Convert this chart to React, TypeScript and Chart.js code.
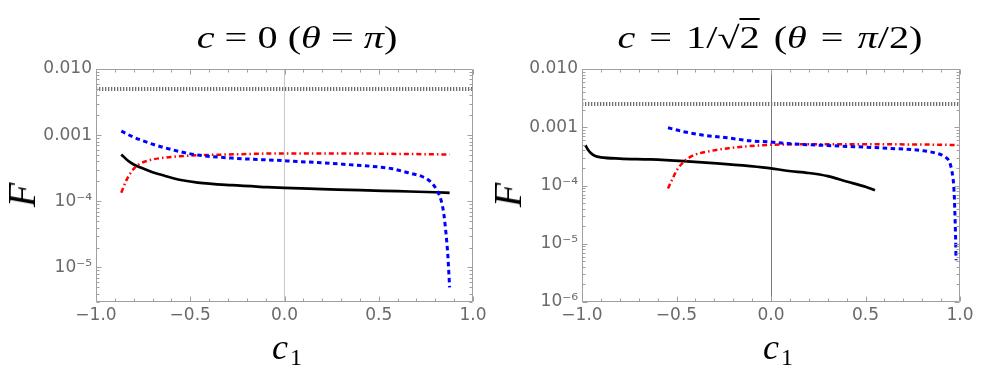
import React, { useEffect, useRef } from "react";
import { Chart, registerables } from "chart.js";

Chart.register(...registerables);

// ---------- Data: panel c = 0 (θ = π) ----------
const c0BlackX = [-0.866, -0.83, -0.8, -0.76, -0.7, -0.64, -0.55, -0.46, -0.28, -0.1, 0, 0.2, 0.4, 0.6, 0.8, 0.876];
const c0BlackY = [5.1e-4, 4.1e-4, 3.6e-4, 3.2e-4, 2.75e-4, 2.45e-4, 2.1e-4, 1.92e-4, 1.75e-4, 1.64e-4, 1.59e-4, 1.53e-4, 1.47e-4, 1.42e-4, 1.37e-4, 1.34e-4];

const c0RedX = [-0.866, -0.85, -0.84, -0.81, -0.78, -0.72, -0.64, -0.5, -0.3, 0, 0.3, 0.6, 0.876];
const c0RedY = [1.35e-4, 1.75e-4, 2.05e-4, 2.85e-4, 3.5e-4, 4.15e-4, 4.55e-4, 4.9e-4, 5.1e-4, 5.3e-4, 5.3e-4, 5.2e-4, 5.1e-4];

const c0BlueX = [-0.866, -0.8, -0.76, -0.7, -0.636, -0.55, -0.46, -0.28, 0, 0.3, 0.5, 0.566, 0.619, 0.672, 0.725, 0.76, 0.787, 0.813, 0.831, 0.845, 0.857, 0.866, 0.876];
const c0BlueY = [1.15e-3, 9.3e-4, 8.4e-4, 7.3e-4, 6.45e-4, 5.6e-4, 5.0e-4, 4.5e-4, 4.1e-4, 3.65e-4, 3.3e-4, 3.13e-4, 2.88e-4, 2.63e-4, 2.4e-4, 2.14e-4, 1.82e-4, 1.38e-4, 1.03e-4, 6.5e-5, 3.2e-5, 1.6e-5, 5e-6];

const c0GrayX = [-1, 1];
const c0GrayY = [5.0e-3, 5.0e-3];

// ---------- Data: panel c = 1/√2 (θ = π/2) ----------
const c1BlackX = [-0.982, -0.97, -0.955, -0.93, -0.9, -0.8, -0.639, -0.462, -0.286, -0.11, 0, 0.084, 0.2, 0.3, 0.4, 0.5, 0.55];
const c1BlackY = [4.9e-4, 4.2e-4, 3.65e-4, 3.2e-4, 3.05e-4, 2.9e-4, 2.8e-4, 2.62e-4, 2.4e-4, 2.15e-4, 1.97e-4, 1.79e-4, 1.64e-4, 1.45e-4, 1.17e-4, 9.5e-5, 8.3e-5];

const c1RedX = [-0.545, -0.524, -0.498, -0.462, -0.41, -0.339, -0.233, -0.11, 0, 0.2, 0.5, 0.8, 0.99];
const c1RedY = [8.9e-5, 1.24e-4, 1.84e-4, 2.55e-4, 3.3e-4, 3.8e-4, 4.33e-4, 4.75e-4, 5.0e-4, 5.1e-4, 5.1e-4, 5.05e-4, 4.95e-4];

const c1BlueX = [-0.545, -0.462, -0.357, -0.233, -0.11, 0, 0.084, 0.3, 0.63, 0.806, 0.877, 0.921, 0.944, 0.956, 0.965, 0.97, 0.974, 0.977, 0.979];
const c1BlueY = [9.8e-4, 8.4e-4, 7.3e-4, 6.6e-4, 5.86e-4, 5.57e-4, 5.25e-4, 4.85e-4, 4.34e-4, 3.95e-4, 3.56e-4, 3.1e-4, 2.55e-4, 1.84e-4, 1.16e-4, 6.4e-5, 2.55e-5, 1.15e-5, 5.2e-6];

const c1GrayX = [-1, 1];
const c1GrayY = [2.5e-3, 2.5e-3];

// ---------- Ticks ----------
const xMajorTicks = [-1, -0.5, 0, 0.5, 1];
const xTickLabels = ["\u22121.0", "\u22120.5", "0.0", "0.5", "1.0"];
const xMinorStep = 0.1;

const yMajorTicks0 = [1e-2, 1e-3, 1e-4, 1e-5];
const yTickLabels0 = ["0.010", "0.001", "10\u207B\u2074", "10\u207B\u2075"];
const yMajorTicks1 = [1e-2, 1e-3, 1e-4, 1e-5, 1e-6];
const yTickLabels1 = ["0.010", "0.001", "10\u207B\u2074", "10\u207B\u2075", "10\u207B\u2076"];

const yMin0 = 3e-6;
const yMin1 = 1e-6;
const yMax = 1e-2;

// ---------- Styles ----------
const TICK_COLOR = "#6a6a6a";
const FRAME_COLOR = "#a0a0a0";
const TICK_FONT = { family: "'DejaVu Sans', 'Liberation Sans', sans-serif", size: 17 };
const SERIF = "'Liberation Serif', 'DejaVu Serif', serif";

const pts = (xs: number[], ys: number[]) => xs.map((x, i) => ({ x, y: ys[i] }));

const findLabel = (v: number, majors: number[], labels: string[]) => {
  const i = majors.findIndex((m) => Math.abs(v / m - 1) < 1e-6 || (m === 0 && Math.abs(v) < 1e-9));
  return i >= 0 ? labels[i] : "";
};

const frameTicksPlugin = {
  id: "frameTicks",
  afterDatasetsDraw(chart: any) {
    const { ctx, chartArea: a, scales } = chart;
    const L = Math.round(a.left) + 0.5;
    const R = Math.round(a.right) - 0.5;
    const T = Math.round(a.top) + 0.5;
    const B = Math.round(a.bottom) - 0.5;
    ctx.save();
    ctx.strokeStyle = FRAME_COLOR;
    ctx.lineWidth = 1;
    ctx.beginPath();
    ctx.rect(L, T, R - L, B - T);
    ctx.stroke();
    ctx.beginPath();
    for (const t of scales.x.ticks) {
      const px = Math.round(scales.x.getPixelForValue(t.value)) + 0.5;
      const major = Math.abs(t.value * 2 - Math.round(t.value * 2)) < 1e-9;
      const len = major ? 5 : 3;
      ctx.moveTo(px, B);
      ctx.lineTo(px, B - len);
      ctx.moveTo(px, T);
      ctx.lineTo(px, T + len);
    }
    for (const t of scales.y.ticks) {
      const py = Math.round(scales.y.getPixelForValue(t.value)) + 0.5;
      const lg = Math.log10(t.value);
      const major = Math.abs(lg - Math.round(lg)) < 1e-9;
      const len = major ? 5 : 3;
      ctx.moveTo(L, py);
      ctx.lineTo(L + len, py);
      ctx.moveTo(R, py);
      ctx.lineTo(R - len, py);
    }
    ctx.stroke();
    ctx.restore();
  },
};

type PanelSpec = {
  blackX: number[]; blackY: number[];
  redX: number[]; redY: number[];
  blueX: number[]; blueY: number[];
  grayX: number[]; grayY: number[];
  yMin: number;
  yMajors: number[];
  yLabels: string[];
  yAxisWidth: number;
  padRight: number;
  zeroColor: string;
};

function buildConfig(p: PanelSpec): any {
  const line = { pointRadius: 0, fill: false, cubicInterpolationMode: "monotone" };
  return {
    type: "line",
    data: {
      datasets: [
        { ...line, data: pts(p.blueX, p.blueY), borderColor: "#0000ff", borderWidth: 3, borderDash: [4.5, 3.5] },
        { ...line, data: pts(p.redX, p.redY), borderColor: "#ff0000", borderWidth: 2.5, borderDash: [5, 3, 1.5, 3] },
        { ...line, data: pts(p.blackX, p.blackY), borderColor: "#000000", borderWidth: 2.7 },
        { pointRadius: 0, fill: false, tension: 0, data: pts(p.grayX, p.grayY), borderColor: "#6e6e6e", borderWidth: 4, borderDash: [1.3, 1.7] },
      ],
    },
    options: {
      responsive: false,
      animation: false,
      devicePixelRatio: 1,
      layout: { padding: { left: 0, right: p.padRight, top: 69, bottom: 0 } },
      plugins: { legend: { display: false }, tooltip: { enabled: false }, title: { display: false } },
      scales: {
        x: {
          type: "linear",
          min: -1,
          max: 1,
          bounds: "data",
          offset: false,
          afterBuildTicks: (s: any) => {
            const n = Math.round(2 / xMinorStep);
            const ticks = [];
            for (let i = 0; i <= n; i++) ticks.push({ value: (i - n / 2) / 10 });
            s.ticks = ticks;
          },
          afterFit: (s: any) => {
            s.height = 85;
            s.paddingLeft = 0;
            s.paddingRight = 0;
          },
          grid: {
            drawTicks: false,
            lineWidth: 1,
            color: (c: any) => (c.tick && Math.abs(c.tick.value) < 1e-9 ? p.zeroColor : "rgba(0,0,0,0)"),
          },
          border: { display: false },
          ticks: {
            autoSkip: false,
            maxRotation: 0,
            minRotation: 0,
            padding: 3,
            color: TICK_COLOR,
            font: TICK_FONT,
            callback: (v: number) => findLabel(v, xMajorTicks, xTickLabels),
          },
        },
        y: {
          type: "logarithmic",
          min: p.yMin,
          max: yMax,
          bounds: "data",
          afterBuildTicks: (s: any) => {
            const ticks = [];
            const e0 = Math.floor(Math.log10(p.yMin));
            const e1 = Math.round(Math.log10(yMax));
            for (let e = e0; e <= e1; e++) {
              for (let k = 1; k <= 9; k++) {
                const v = k * Math.pow(10, e);
                if (v >= p.yMin * 0.999999 && v <= yMax * 1.000001) ticks.push({ value: v });
              }
            }
            s.ticks = ticks;
          },
          afterFit: (s: any) => {
            s.width = p.yAxisWidth;
            s.paddingTop = 0;
            s.paddingBottom = 0;
          },
          grid: { display: false, drawTicks: false },
          border: { display: false },
          ticks: {
            autoSkip: false,
            padding: 4,
            color: TICK_COLOR,
            font: TICK_FONT,
            callback: (v: number) => findLabel(v, p.yMajors, p.yLabels),
          },
        },
      },
    },
    plugins: [frameTicksPlugin],
  };
}

const panel0: PanelSpec = {
  blackX: c0BlackX, blackY: c0BlackY,
  redX: c0RedX, redY: c0RedY,
  blueX: c0BlueX, blueY: c0BlueY,
  grayX: c0GrayX, grayY: c0GrayY,
  yMin: yMin0, yMajors: yMajorTicks0, yLabels: yTickLabels0,
  yAxisWidth: 96, padRight: 17, zeroColor: "#c8c8c8",
};

const panel1: PanelSpec = {
  blackX: c1BlackX, blackY: c1BlackY,
  redX: c1RedX, redY: c1RedY,
  blueX: c1BlueX, blueY: c1BlueY,
  grayX: c1GrayX, grayY: c1GrayY,
  yMin: yMin1, yMajors: yMajorTicks1, yLabels: yTickLabels1,
  yAxisWidth: 92, padRight: 21, zeroColor: "#7a7a7a",
};

function Panel({ spec, left, width }: { spec: PanelSpec; left: number; width: number }) {
  const ref = useRef<HTMLCanvasElement>(null);
  useEffect(() => {
    const chart = new Chart(ref.current as HTMLCanvasElement, buildConfig(spec));
    return () => chart.destroy();
  }, []);
  return (
    <canvas
      ref={ref}
      width={width}
      height={387}
      style={{ position: "absolute", left, top: 0, width, height: 387 }}
    />
  );
}

const titleStyle = (cx: number, ws: number): React.CSSProperties => ({
  position: "absolute",
  left: cx - 250,
  top: 22,
  width: 500,
  textAlign: "center",
  fontFamily: SERIF,
  fontSize: 31,
  lineHeight: 1,
  whiteSpace: "pre",
  wordSpacing: ws,
  color: "#000",
  transform: "scaleX(1.3)",
  transformOrigin: "center",
});

const xLabelStyle = (cx: number): React.CSSProperties => ({
  position: "absolute",
  left: cx - 100,
  top: 329,
  width: 200,
  textAlign: "center",
  fontFamily: SERIF,
  fontSize: 36,
  lineHeight: 1,
  whiteSpace: "pre",
  color: "#000",
});

const yLabelStyle = (cx: number, cy: number): React.CSSProperties => ({
  position: "absolute",
  left: cx,
  top: cy,
  fontFamily: SERIF,
  fontSize: 40,
  fontStyle: "italic",
  lineHeight: 1,
  whiteSpace: "pre",
  color: "#000",
  transform: "translate(-50%, -50%) rotate(-90deg)",
});

const XLabel = ({ cx }: { cx: number }) => (
  <div style={xLabelStyle(cx)}>
    <i>c</i>
    <span style={{ fontSize: 24, position: "relative", top: 6, marginLeft: 2 }}>1</span>
  </div>
);

export default function App() {
  return (
    <div style={{ position: "fixed", left: 0, top: 0, width: 981, height: 387, background: "#fff", overflow: "hidden" }}>
      <Panel spec={panel0} left={0} width={490} />
      <Panel spec={panel1} left={490} width={491} />

      <div style={titleStyle(297, 0)}>
        <i>c</i> = 0 (<i>θ</i> = <i>π</i>)
      </div>
      <div style={titleStyle(770, 3)}>
        <i>c</i> = 1/√<span style={{ textDecoration: "overline", textDecorationThickness: 1.5 }}>2</span> (<i>θ</i> = <i>π</i>/2)
      </div>

      <div style={yLabelStyle(22, 195)}>F</div>
      <div style={yLabelStyle(508, 195)}>F</div>

      <XLabel cx={287} />
      <XLabel cx={778} />
    </div>
  );
}
